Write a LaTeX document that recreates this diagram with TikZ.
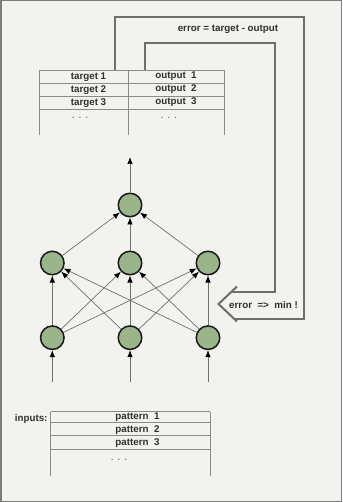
\documentclass[tikz,border=0pt]{standalone}
\usepackage{fontspec}
\setmainfont{Liberation Sans}
\usetikzlibrary{arrows.meta}
\definecolor{bg}{HTML}{F2F2EE}
\definecolor{frame}{HTML}{7C7C7C}
\definecolor{loopc}{HTML}{6E6E6E}
\definecolor{tabc}{HTML}{8A8A8A}
\definecolor{linec}{HTML}{707070}
\definecolor{nodefill}{HTML}{9AB58A}
\definecolor{txt}{HTML}{303030}
\tikzset{
  neuron/.style={circle, draw=black!90, line width=1.5pt, fill=nodefill, minimum size=23.5pt, inner sep=0pt},
  lbl/.style={font=\fontsize{9.8}{11}\selectfont\bfseries, text=txt, inner sep=0pt},
  dots/.style={font=\fontsize{8}{9}\selectfont\bfseries, text=txt!70, inner sep=0pt},
  tab/.style={draw=tabc, line width=0.9pt},
  loopline/.style={draw=loopc, line width=1.5pt},
  arr/.style={draw=linec, line width=0.7pt, -{Latex[length=7pt,width=5.5pt,black]}},
}
\begin{document}
\begin{tikzpicture}[x=1pt,y=-1pt]
\useasboundingbox (0,0) rectangle (342,502);
\fill[bg] (0,0) rectangle (342,502);
\draw[frame, line width=1.5pt] (0.75,0.75) rectangle (341.25,501.25);

% target/output table
\draw[tab] (39.5,70.5) -- (224,70.5);
\draw[tab] (39.5,83) -- (224,83);
\draw[tab] (39.5,96) -- (224,96);
\draw[tab] (39.5,109) -- (224,109);
\draw[tab] (39.5,70.5) -- (39.5,135);
\draw[tab] (128,70.5) -- (128,135);
\draw[tab] (224,70.5) -- (224,135);
\node[lbl] (t1) at (88.5,77) {target 1};
\node[lbl] (t2) at (88.5,90) {target 2};
\node[lbl] (t3) at (88.5,103) {target 3};
\node[dots] (td) at (80,118) {.\ \ .\ \ .};
\node[lbl] (o1) at (176,76) {output\ \ 1};
\node[lbl] (o2) at (176,89) {output\ \ 2};
\node[lbl] (o3) at (176,102) {output\ \ 3};
\node[dots] (od) at (169,118) {.\ \ .\ \ .};

% feedback loops
\draw[loopline] (115,70.5) -- (115,17) -- (304,17) -- (304,319) -- (234,319);
\draw[loopline] (145,70.5) -- (145,43) -- (275,43) -- (275,292) -- (232,292);
\draw[loopline, line width=2pt] (237,286.5) -- (218.5,304) -- (237,321.5);
\node[lbl] (err) at (228,29.5) {error = target - output};
\node[lbl, anchor=west] (min) at (229,304.5) {error\ \ =>\ \ min !};

% network
\node[neuron] (o) at (130,205) {};
\node[neuron] (h1) at (52.3,263) {};
\node[neuron] (h2) at (130,263) {};
\node[neuron] (h3) at (208,263) {};
\node[neuron] (i1) at (52.3,337.7) {};
\node[neuron] (i2) at (130,337.7) {};
\node[neuron] (i3) at (208,337.7) {};
\coordinate (out) at (130,157);
\coordinate (in1) at (52.3,382);
\coordinate (in2) at (130,382);
\coordinate (in3) at (208,382);

\draw[arr] (o) -- (out);
\foreach \h in {h1,h2,h3} { \draw[arr] (\h) -- (o); }
\foreach \i in {i1,i2,i3} {
  \foreach \h in {h1,h2,h3} { \draw[arr] (\i) -- (\h); }
}
\draw[arr] (in1) -- (i1);
\draw[arr] (in2) -- (i2);
\draw[arr] (in3) -- (i3);

% inputs table
\draw[tab] (50.7,411.7) -- (210,411.7);
\draw[tab] (50.7,422.7) -- (210,422.7);
\draw[tab] (50.7,435.7) -- (210,435.7);
\draw[tab] (50.7,449.3) -- (210,449.3);
\draw[tab] (50.7,411.7) -- (50.7,476);
\draw[tab] (210,411.7) -- (210,476);
\node[lbl, anchor=east] (inl) at (47.7,419) {inputs:};
\node[lbl] (p1) at (137.5,417.5) {pattern\ \ 1};
\node[lbl] (p2) at (137.5,430) {pattern\ \ 2};
\node[lbl] (p3) at (137.5,443) {pattern\ \ 3};
\node[dots] (pd) at (119,460) {.\ \ .\ \ .};
\end{tikzpicture}
\end{document}
